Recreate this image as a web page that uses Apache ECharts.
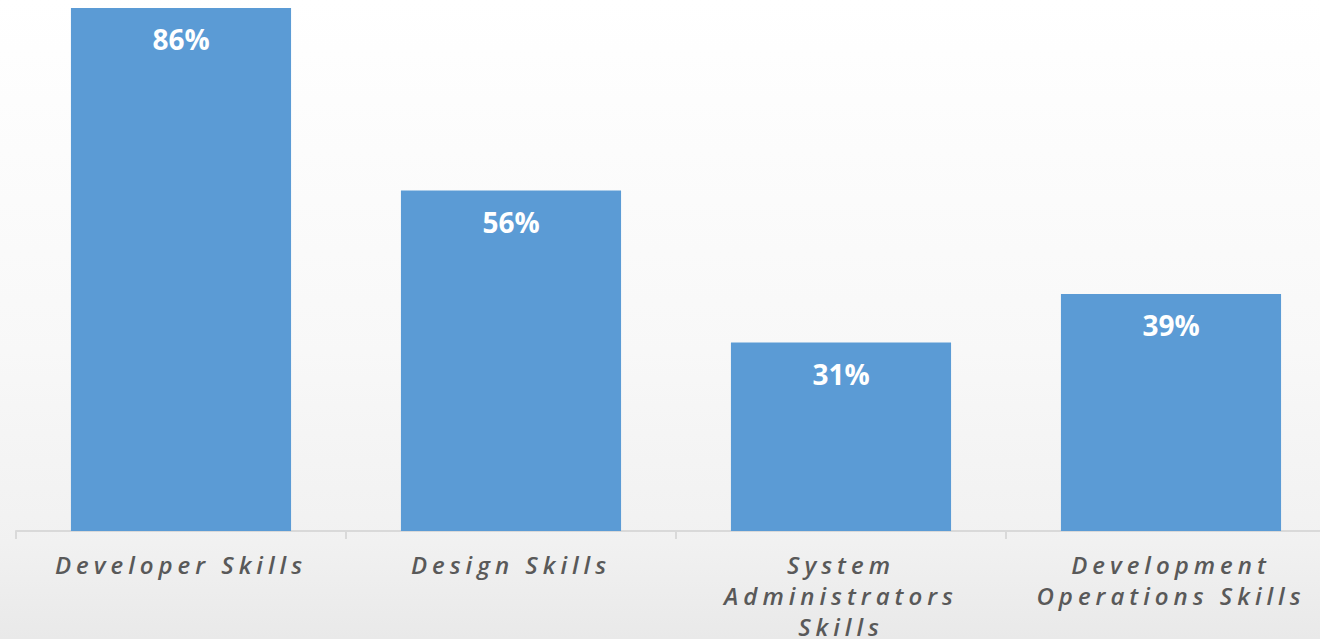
<!DOCTYPE html>
<html>
<head>
<meta charset="utf-8">
<script src="https://cdn.jsdelivr.net/npm/echarts@6/dist/echarts.min.js"></script>
<style>
  html, body { margin: 0; padding: 0; }
  #chart { width: 1320px; height: 639px; }
  /* spaced-out italic category labels along the x axis */
  #chart svg text[style*="italic"] { letter-spacing: 5px; }
</style>
</head>
<body>
<div id="chart"></div>
<script>
// Share of respondents citing each skill area (%)
const categories = [
  'Developer Skills',
  'Design Skills',
  'System\nAdministrators\nSkills',
  'Development\nOperations Skills'
];
const shares = [86, 56, 31, 39];

const chart = echarts.init(document.getElementById('chart'), null, { renderer: 'svg' });

chart.setOption({
  animation: false,
  backgroundColor: {
    type: 'linear', x: 0, y: 0, x2: 0, y2: 1,
    colorStops: [
      { offset: 0, color: '#ffffff' },
      { offset: 0.55, color: '#f8f8f8' },
      { offset: 0.85, color: '#f1f1f1' },
      { offset: 1, color: '#e9e9e9' }
    ]
  },
  grid: {
    left: 16, right: -16, top: -77, bottom: 108,
    containLabel: false,
    outerBoundsMode: 'none'
  },
  xAxis: {
    type: 'category',
    data: categories,
    axisLine: { lineStyle: { color: '#d9d9d9', width: 2 } },
    axisTick: { show: true, length: 8, lineStyle: { color: '#d9d9d9', width: 2 } },
    axisLabel: {
      interval: 0,
      margin: 18,
      color: '#595959',
      fontFamily: 'Open Sans',
      fontStyle: 'italic',
      fontWeight: 600,
      fontSize: 24,
      lineHeight: 31
    }
  },
  yAxis: {
    type: 'value',
    min: 0,
    max: 100,
    show: false,
    splitLine: { show: false }
  },
  series: [{
    type: 'bar',
    data: shares,
    barCategoryGap: '33.3%',
    itemStyle: { color: '#5b9bd5' },
    label: {
      show: true,
      position: 'insideTop',
      distance: 17,
      formatter: '{c}%',
      color: '#ffffff',
      fontFamily: 'Open Sans',
      fontWeight: 'bold',
      fontSize: 28
    }
  }]
});
</script>
</body>
</html>
